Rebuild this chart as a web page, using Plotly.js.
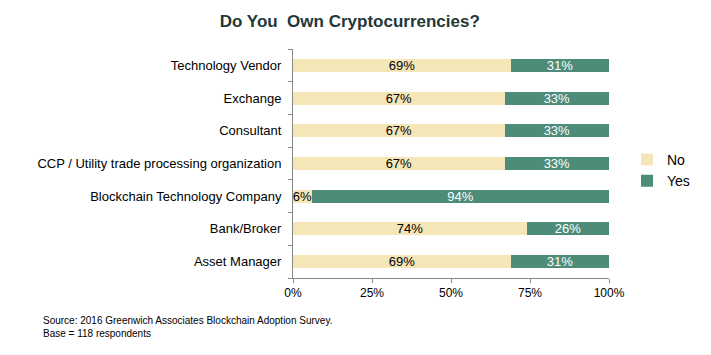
<!DOCTYPE html>
<html><head><meta charset="utf-8">
<script src="https://cdn.plot.ly/plotly-3.0.1.min.js"></script>
<style>html,body{margin:0;padding:0;background:#fff}</style>
</head><body>
<div id="chart" style="width:711px;height:355px"></div>
<script>
const categories = ["Asset Manager","Bank/Broker","Blockchain Technology Company","CCP / Utility trade processing organization","Consultant","Exchange","Technology Vendor"];
const noValues = [69,74,6,67,67,67,69];
const yesValues = [31,26,94,33,33,33,31];
const xTicks = [0,25,50,75,100];
const xTickLabels = ["0%","25%","50%","75%","100%"];

const FONT = "Liberation Sans, Arial, sans-serif";
const traces = [
  {type:"bar", orientation:"h", name:"No", y:categories, x:noValues,
   marker:{color:"#f5e6b8"}, texttemplate:"%{x}%", textposition:"inside", insidetextanchor:"middle",
   constraintext:"none", cliponaxis:false, textfont:{color:"#000", size:13, family:FONT}, hoverinfo:"none"},
  {type:"bar", orientation:"h", name:"Yes", y:categories, x:yesValues,
   marker:{color:"#4e8c7a"}, texttemplate:"%{x}%", textposition:"inside", insidetextanchor:"middle",
   constraintext:"none", textfont:{color:"#fff", size:13, family:FONT}, hoverinfo:"none"}
];
const layout = {
  width:711, height:355, barmode:"stack", bargap:0.6,
  margin:{l:293, r:102, t:49, b:77, autoexpand:false},
  paper_bgcolor:"#fff", plot_bgcolor:"#fff",
  font:{family:FONT, size:13, color:"#000"},
  title:{text:"<b>Do You  Own Cryptocurrencies?</b>", x:0.492, xanchor:"center", y:0.94, yanchor:"middle",
         font:{size:17, color:"#1f3838", family:FONT}},
  xaxis:{range:[0,100], tickvals:xTicks, ticktext:xTickLabels, showgrid:false, zeroline:false,
         showline:true, linecolor:"#888", linewidth:1, ticks:"outside", ticklen:4, tickcolor:"#888",
         tickfont:{size:12}, fixedrange:true},
  yaxis:{type:"category", categoryorder:"array", categoryarray:categories, showgrid:false, zeroline:false,
         showline:true, linecolor:"#888", linewidth:1, ticks:"outside", ticklen:4, tickcolor:"#888",
         tickson:"boundaries", tickfont:{size:13}, ticklabelstandoff:8, fixedrange:true},
  legend:{x:1.057, xanchor:"left", y:0.47, yanchor:"middle", traceorder:"normal",
          font:{size:14, color:"#000"}, itemwidth:30, bgcolor:"rgba(0,0,0,0)"},
  showlegend:true,
  annotations:[
    {text:"Source: 2016 Greenwich Associates Blockchain Adoption Survey.<br>Base = 118 respondents",
     xref:"paper", yref:"paper", x:-0.797, xanchor:"left", y:-0.155, yanchor:"top", align:"left",
     showarrow:false, font:{size:10, color:"#000", family:"Liberation Sans Narrow, Arial Narrow, Liberation Sans, sans-serif"}}
  ]
};
Plotly.newPlot("chart", traces, layout, {displayModeBar:false, staticPlot:true});
</script>
</body></html>
